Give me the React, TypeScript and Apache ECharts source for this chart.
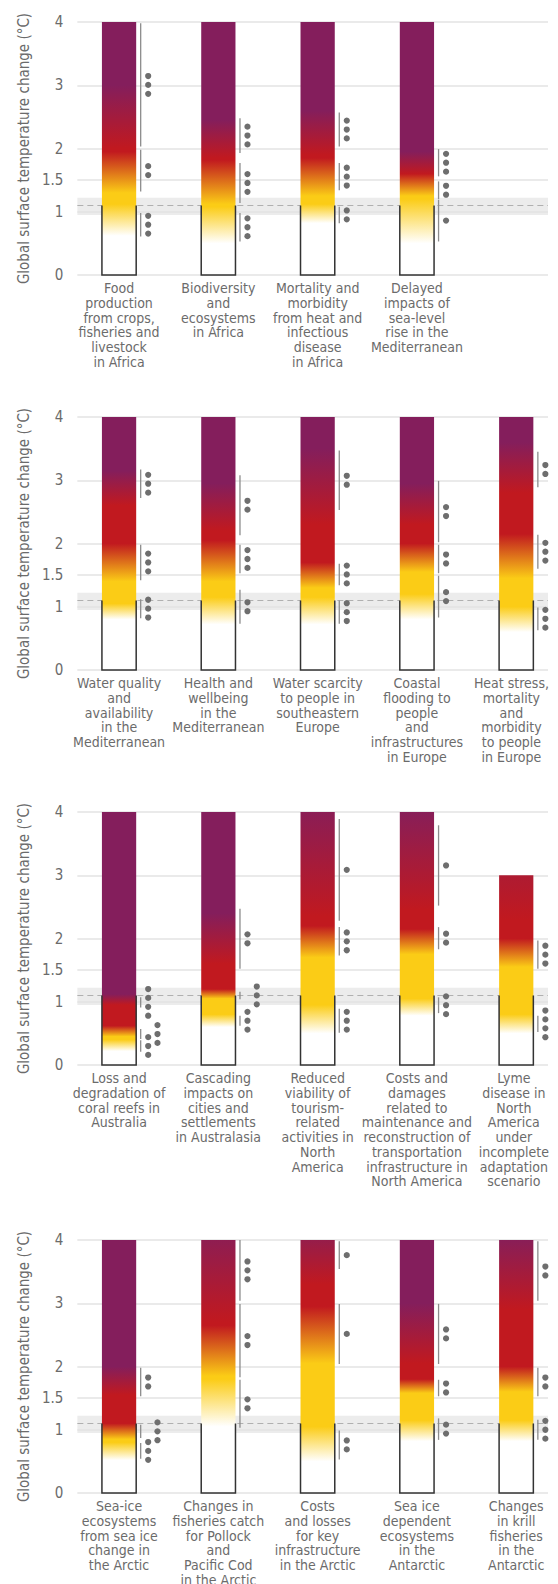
import { useEffect, useRef } from 'react';
import * as echarts from 'echarts';

const FONT = '"DejaVu Sans Condensed", "Liberation Sans Narrow", sans-serif';
const LABEL_SIZE = 14;
const TEXT_COLOR = '#6b6b6b';
const DOT_COLOR = '#6e6e6e';
const LINE_COLOR = '#8c8c8c';
const GRID_COLOR = '#e3e3e3';

const Y_NAME = 'Global surface temperature change (°C)';
const Y_TICKS = [0, 1, 1.5, 2, 3, 4];
const PRESENT_WARMING = 1.1;
const PRESENT_RANGE = [0.95, 1.22];

// undetectable -> moderate -> high -> very high
const RISK_COLORS = ['#ffffff', '#fbcc16', '#c1191f', '#841e5c'];

// transitions: [from, to] for white->yellow, yellow->red, red->purple
// confidence: [from, to, dots]

const p1Labels = [
  'Food\nproduction\nfrom crops,\nfisheries and\nlivestock\nin Africa',
  'Biodiversity\nand\necosystems\nin Africa',
  'Mortality and\nmorbidity\nfrom heat and\ninfectious\ndisease\nin Africa',
  'Delayed\nimpacts of\nsea-level\nrise in the\nMediterranean',
];
const p1Tops = [4, 4, 4, 4];
const p1Transitions = [
  [[0.62, 1.12], [1.3, 1.95], [2.0, 3.0]],
  [[0.5, 1.08], [1.12, 1.82], [1.85, 2.45]],
  [[0.82, 1.12], [1.25, 1.85], [1.9, 2.6]],
  [[0.5, 1.2], [1.25, 1.6], [1.6, 1.95]],
];
const p1Confidence = [
  [[0.61, 0.98, 3], [1.32, 1.98, 2], [2.03, 3.98, 3]],
  [[0.53, 0.98, 3], [1.14, 1.77, 3], [1.93, 2.48, 3]],
  [[0.82, 1.08, 2], [1.34, 1.77, 3], [2.03, 2.57, 3]],
  [[0.53, 1.19, 1], [1.2, 1.48, 2], [1.56, 1.99, 3]],
];

const p2Labels = [
  'Water quality\nand\navailability\nin the\nMediterranean',
  'Health and\nwellbeing\nin the\nMediterranean',
  'Water scarcity\nto people in\nsoutheastern\nEurope',
  'Coastal\nflooding to\npeople\nand\ninfrastructures\nin Europe',
  'Heat stress,\nmortality\nand\nmorbidity\nto people\nin Europe',
];
const p2Tops = [4, 4, 4, 4, 4];
const p2Transitions = [
  [[0.8, 1.05], [1.4, 2.0], [2.6, 3.15]],
  [[0.72, 1.15], [1.4, 2.05], [2.2, 2.95]],
  [[0.72, 1.15], [1.3, 1.7], [2.3, 3.5]],
  [[0.8, 1.2], [1.55, 2.0], [2.3, 2.95]],
  [[0.6, 1.0], [1.45, 2.15], [2.8, 3.6]],
];
const p2Confidence = [
  [[0.82, 1.12, 3], [1.42, 1.98, 3], [2.72, 3.17, 3]],
  [[0.73, 1.27, 2], [1.53, 1.98, 3], [2.13, 3.08, 2]],
  [[0.73, 1.1, 3], [1.34, 1.68, 3], [2.53, 3.47, 2]],
  [[0.83, 1.49, 2], [1.53, 1.98, 2], [2.02, 2.99, 2]],
  [[0.63, 0.99, 3], [1.6, 2.14, 3], [2.89, 3.45, 2]],
];

const p3Labels = [
  'Loss and\ndegradation of\ncoral reefs in\nAustralia',
  'Cascading\nimpacts on\ncities and\nsettlements\nin Australasia',
  'Reduced\nviability of\ntourism-\nrelated\nactivities in\nNorth\nAmerica',
  'Costs and\ndamages\nrelated to\nmaintenance and\nreconstruction of\ntransportation\ninfrastructure in\nNorth America',
  'Lyme\ndisease in\nNorth\nAmerica\nunder\nincomplete\nadaptation\nscenario',
];
const p3Tops = [4, 4, 4, 4, 3];
const p3Transitions = [
  [[0.22, 0.4], [0.45, 0.62], [0.95, 1.12]],
  [[0.6, 0.8], [1.05, 1.2], [1.6, 2.4]],
  [[0.5, 0.95], [1.7, 2.2], [2.35, 4.2]],
  [[0.78, 1.05], [1.75, 2.15], [2.45, 4.1]],
  [[0.5, 0.8], [1.55, 2.0], [2.3, 4.6]],
];
const p3Confidence = [
  [[0.21, 0.39, 3], [0.41, 0.57, 3], [0.91, 1.07, 4]],
  [[0.62, 0.78, 3], [1.04, 1.16, 3], [1.52, 2.47, 2]],
  [[0.51, 0.89, 3], [1.73, 2.18, 3], [2.28, 3.89, 1]],
  [[0.82, 1.07, 3], [1.83, 2.18, 2], [2.52, 3.79, 1]],
  [[0.52, 0.78, 4], [1.52, 1.97, 3]],
];

const p4Labels = [
  'Sea-ice\necosystems\nfrom sea ice\nchange in\nthe Arctic',
  'Changes in\nfisheries catch\nfor Pollock\nand\nPacific Cod\nin the Arctic',
  'Costs\nand losses\nfor key\ninfrastructure\nin the Arctic',
  'Sea ice\ndependent\necosystems\nin the\nAntarctic',
  'Changes\nin krill\nfisheries\nin the\nAntarctic',
];
const p4Tops = [4, 4, 4, 4, 4];
const p4Transitions = [
  [[0.52, 0.8], [0.85, 1.1], [1.55, 2.0]],
  [[1.05, 1.8], [1.85, 2.65], [2.7, 4.3]],
  [[0.5, 1.05], [2.05, 2.95], [3.3, 4.3]],
  [[0.82, 1.15], [1.58, 1.8], [2.05, 3.0]],
  [[0.82, 1.15], [1.6, 2.0], [2.9, 4.1]],
];
const p4Confidence = [
  [[0.54, 0.79, 3], [0.87, 1.08, 3], [1.53, 1.98, 2]],
  [[1.03, 1.79, 2], [1.83, 2.99, 2], [3.04, 4.0, 3]],
  [[0.53, 0.99, 2], [2.04, 2.99, 1], [3.54, 3.98, 1]],
  [[0.84, 1.18, 2], [1.53, 1.79, 2], [2.04, 2.99, 2]],
  [[0.84, 1.16, 3], [1.53, 1.98, 2], [3.04, 3.98, 2]],
];

const panels = [
  { labels: p1Labels, tops: p1Tops, transitions: p1Transitions, confidence: p1Confidence },
  { labels: p2Labels, tops: p2Tops, transitions: p2Transitions, confidence: p2Confidence },
  { labels: p3Labels, tops: p3Tops, transitions: p3Transitions, confidence: p3Confidence },
  { labels: p4Labels, tops: p4Tops, transitions: p4Transitions, confidence: p4Confidence },
];

// layout
const GRID_TOPS = [14, 409, 804, 1232];
const GRID_HEIGHT = 253;
const X_MIN = -0.42;
const X_MAX = 4.32;
const DOT_GAP = 8.9;
const DOT_R = 3.1;

const measureCtx = document.createElement('canvas').getContext('2d');
function labelWidth(text: string) {
  if (!measureCtx) return 0;
  measureCtx.font = `${LABEL_SIZE}px ${FONT}`;
  return Math.max(...text.split('\n').map((l) => measureCtx.measureText(l).width));
}

function mix(a: string, b: string, t: number) {
  const pa = parseInt(a.slice(1), 16);
  const pb = parseInt(b.slice(1), 16);
  const ch = (p: number, s: number) => (p >> s) & 255;
  const c = [16, 8, 0].map((s) => Math.round(ch(pa, s) + (ch(pb, s) - ch(pa, s)) * t));
  return `rgb(${c[0]},${c[1]},${c[2]})`;
}

function emberStops(transitions: number[][], top: number) {
  const pts: [number, string][] = [[0, RISK_COLORS[0]]];
  transitions.forEach(([from, to], k) => {
    pts.push([from, RISK_COLORS[k]]);
    pts.push([to, RISK_COLORS[k + 1]]);
  });
  const colorAt = (v: number) => {
    for (let j = 1; j < pts.length; j++) {
      if (v <= pts[j][0]) {
        const [v0, c0] = pts[j - 1];
        const [v1, c1] = pts[j];
        return v1 === v0 ? c1 : mix(c0, c1, (v - v0) / (v1 - v0));
      }
    }
    return pts[pts.length - 1][1];
  };
  const stops = pts.filter(([v]) => v < top).map(([v, c]) => ({ offset: v / top, color: c }));
  stops.push({ offset: 1, color: colorAt(top) });
  return stops;
}

function makeRenderItem(panel: (typeof panels)[number]) {
  return (params: any, api: any) => {
    const i = params.dataIndex;
    const top = api.value(1);
    const base = api.coord([i, 0]);
    const peak = api.coord([i, top]);
    const presentY = api.coord([i, PRESENT_WARMING])[1];
    const bw = api.size([1, 0])[0] * 0.345;
    const left = base[0] - bw / 2;
    const right = base[0] + bw / 2;

    const children: any[] = [
      {
        type: 'rect',
        shape: { x: left, y: peak[1], width: bw, height: base[1] - peak[1] },
        style: {
          fill: new echarts.graphic.LinearGradient(0, 1, 0, 0, emberStops(panel.transitions[i], top)),
        },
      },
      {
        type: 'polyline',
        shape: { points: [[left, presentY], [left, base[1]], [right, base[1]], [right, presentY]] },
        style: { fill: 'none', stroke: '#333', lineWidth: 1.5 },
      },
    ];

    // confidence lines and dot stacks; crowded stacks move to a second column
    const marks = panel.confidence[i]
      .slice()
      .sort((a, b) => a[0] - b[0])
      .map(([from, to, n]) => {
        const yFrom = api.coord([i, from])[1];
        const yTo = api.coord([i, to])[1];
        return { yFrom, yTo, cy: (yFrom + yTo) / 2, n };
      });
    const lastTop = [Infinity, Infinity];
    const cols = marks.map((m) => {
      const half = ((m.n - 1) / 2) * DOT_GAP;
      const col = lastTop[0] - (m.cy + half) >= 1.4 * DOT_GAP ? 0 : 1;
      lastTop[col] = m.cy - half;
      return col;
    });
    const lineX = right + 4.5;
    const dotX = right + 12;

    marks.forEach((m, k) => {
      children.push({
        type: 'line',
        shape: { x1: lineX, y1: m.yFrom, x2: lineX, y2: m.yTo },
        style: { stroke: LINE_COLOR, lineWidth: 1.3 },
      });
      for (let d = 0; d < m.n; d++) {
        children.push({
          type: 'circle',
          shape: { cx: dotX + cols[k] * 9.3, cy: m.cy + (d - (m.n - 1) / 2) * DOT_GAP, r: DOT_R },
          style: { fill: DOT_COLOR },
        });
      }
    });

    const label = panel.labels[i];
    const half = labelWidth(label) / 2;
    children.push({
      type: 'text',
      x: Math.min(base[0], api.getWidth() - 1 - half),
      y: base[1] + 6,
      style: {
        text: label,
        align: 'center',
        verticalAlign: 'top',
        fill: TEXT_COLOR,
        fontSize: LABEL_SIZE,
        fontFamily: FONT,
        lineHeight: 14.7,
      },
    });

    return { type: 'group', children };
  };
}

export default function App() {
  const chartRef = useRef<HTMLDivElement>(null);

  useEffect(() => {
    if (!chartRef.current) return;
    const chart = echarts.init(chartRef.current, undefined, { renderer: 'svg' });

    const option: any = {
      animation: false,
      grid: GRID_TOPS.map((top) => ({ left: 67, right: 2, top, height: GRID_HEIGHT })),
      xAxis: panels.map((_, p) => ({
        gridIndex: p,
        type: 'value',
        min: X_MIN,
        max: X_MAX,
        show: false,
      })),
      yAxis: panels.map((_, p) => ({
        gridIndex: p,
        type: 'value',
        min: 0,
        max: 4,
        interval: 0.5,
        axisLine: { show: false },
        axisTick: { show: false },
        splitLine: { show: false },
        axisLabel: {
          formatter: (v: number) => (Y_TICKS.includes(v) ? String(v) : ''),
          color: TEXT_COLOR,
          fontSize: 15,
          fontFamily: FONT,
          margin: 14,
        },
        name: Y_NAME,
        nameLocation: 'middle',
        nameGap: 44,
        nameTextStyle: { color: TEXT_COLOR, fontSize: 15, fontFamily: FONT },
      })),
      series: panels.flatMap((panel, p) => [
        {
          type: 'line',
          xAxisIndex: p,
          yAxisIndex: p,
          data: [],
          silent: true,
          markArea: {
            silent: true,
            z: 1,
            itemStyle: { color: '#ececec' },
            data: [[{ yAxis: PRESENT_RANGE[0] }, { yAxis: PRESENT_RANGE[1] }]],
          },
          markLine: {
            silent: true,
            z: 2,
            symbol: 'none',
            label: { show: false },
            data: [
              ...Y_TICKS.map((v) => ({ yAxis: v, lineStyle: { color: GRID_COLOR, width: 1.5, type: 'solid' } })),
              { yAxis: PRESENT_WARMING, lineStyle: { color: '#b0b0b0', width: 1.2, type: [6, 4] } },
            ],
          },
        },
        {
          type: 'custom',
          xAxisIndex: p,
          yAxisIndex: p,
          z: 10,
          clip: false,
          silent: true,
          data: panel.tops.map((t, i) => [i, t]),
          encode: { x: 0, y: 1 },
          renderItem: makeRenderItem(panel),
        },
      ]),
    };

    chart.setOption(option);
    return () => chart.dispose();
  }, []);

  return <div ref={chartRef} style={{ width: '100%', height: 1576 }} />;
}
